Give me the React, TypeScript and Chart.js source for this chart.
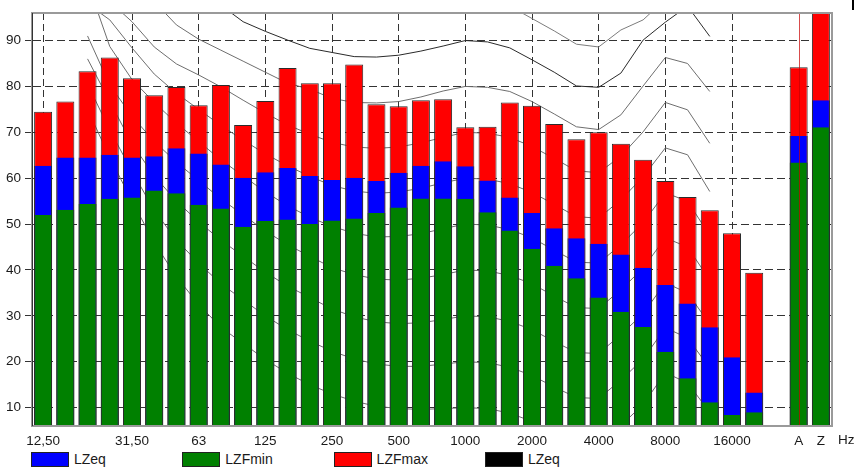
import React, { useEffect, useRef } from 'react';
import { Chart, registerables } from 'chart.js';

Chart.register(...registerables);

// ---- categories (1/3 octave bands + blank + A + Z) ----
const bandLabels = ['12,50','16','20','25','31,50','40','50','63','80','100','125','160','200','250','315','400','500','630','800','1000','1250','1600','2000','2500','3150','4000','5000','6300','8000','10000','12500','16000','20000','','A','Z'];
const tickLabels = ['12,50','','','','31,50','','','63','','','125','','','250','','','500','','','1000','','','2000','','','4000','','','8000','','','16000','','','A','Z'];
const gridIndices = [0, 4, 7, 10, 13, 16, 19, 22, 25, 28, 31];
const markerIndex = 34;
const yTicks = [10, 20, 30, 40, 50, 60, 70, 80, 90];

// ---- bar series (dB) ----
const lzfMax = [74.5,76.7,83.3,86.3,81.8,78.1,79.9,75.9,80.3,71.6,76.8,84.0,80.7,80.7,84.8,76.1,75.7,77.0,77.2,71.1,71.2,76.5,75.8,71.8,68.5,70.0,67.5,64.0,59.4,55.9,53.0,48.0,39.4,null,84.2,98.0];
const lzeq = [62.7,64.5,64.5,65.1,64.5,64.8,66.5,65.4,63.0,60.1,61.3,62.2,60.5,59.6,60.1,59.4,61.2,62.7,63.7,62.6,59.5,55.8,52.4,49.1,46.9,45.7,43.4,40.5,36.7,32.7,27.5,21.0,13.3,null,69.2,77.0];
const lzfMin = [52.0,53.1,54.4,55.5,55.8,57.3,56.7,54.2,53.4,49.4,50.7,51.0,50.0,50.8,51.2,52.4,53.6,55.6,55.6,55.5,52.6,48.6,44.6,40.9,38.2,34.0,30.9,27.6,22.2,16.4,11.2,8.4,9.0,null,63.4,71.1];

// ---- equal loudness contours, 20 Hz .. 12500 Hz (start at band index 2) ----
const contourStart = 2;
const phon100 = [125,122,119,116,113,111,109,107,105.5,104,103,102,101.5,101,100.5,100.5,100.5,100,99.5,97.5,94.8,92.1,89.2,88.6,92.3,94.5,99,101,99];
const phon90 = [113,110,107,104,102,100,97.7,94.1,92.0,90.1,88.3,87.4,86.5,86.4,86.8,87.7,88.8,90.0,89.7,88.4,85.8,83.1,80.1,79.8,82.9,90.1,94.0,97.5,90.9];
const phon80 = [111,107,103,98.5,93.4,90.3,87.9,85.5,83.1,80.7,79.4,77.4,76.5,76.4,76.7,77.7,79.0,80.0,79.8,78.9,76.7,74.0,71.2,70.6,73.8,80.1,86.3,85.0,78.9];
const phon70 = [103,98.5,94.1,88.6,84.9,82.5,79.9,77.0,74.2,71.6,69.6,67.8,66.8,66.5,66.8,67.7,68.9,70.0,69.8,68.9,66.9,64.3,61.6,61.2,64.8,70.1,76.5,74.9,67.6];
const phon60 = [98,94.5,88.4,82.7,78.5,75.0,71.5,68.3,65.3,62.7,60.4,58.4,57.2,56.7,57.0,57.8,59.0,60.0,59.8,58.8,56.9,54.3,51.6,51.3,55.3,60.3,66.6,65.1,57.1];
const phon50 = [102.6,88.7,81.5,76.5,72.0,68.0,64.0,60.5,57.0,54.0,51.5,49.5,48.0,47.2,47.3,47.9,49.0,50.0,49.8,48.8,47.0,44.3,41.7,41.5,45.5,50.3,56.8,55.0,47.5];
const phon40 = [91.0,80.3,73.5,68.0,63.5,59.5,55.5,52.0,48.5,45.5,43.0,40.5,39.0,38.0,37.8,38.2,39.0,40.0,39.8,38.8,37.0,34.3,31.8,31.6,35.7,40.4,47.0,45.0,37.8];
const phon30 = [86.0,76.7,67.5,60.5,55.0,50.5,46.5,43.0,39.5,36.5,34.0,31.5,29.8,28.7,28.3,28.5,29.2,30.0,29.8,28.8,27.0,24.4,22.0,21.8,25.9,30.5,37.2,35.0,28.2];
const phon20 = [80.5,70.5,61.5,53.0,46.5,41.5,37.0,33.5,30.0,27.0,24.5,22.3,20.6,19.5,19.0,19.0,19.5,20.0,19.8,18.8,17.0,14.5,12.2,12.0,16.0,20.6,27.4,25.2,18.6];
const phon10 = [75.0,64.5,55.0,46.0,38.5,32.5,27.5,24.0,20.5,17.5,15.0,13.0,11.4,10.3,9.8,9.6,9.8,10.0,9.8,8.8,7.0,4.6,2.4,2.2,6.1,10.7,17.6,15.4,9.0];

const legendLabels = ['LZeq', 'LZFmin', 'LZFmax', 'LZeq'];
const legendColors = ['#0000ff', '#008000', '#ff0000', '#000000'];

const FONT_FAMILY = '"Liberation Sans", Arial, sans-serif';
const TEXT_COLOR = '#1a1a1a';

function padContour(vals: number[]): (number | null)[] {
  const out: (number | null)[] = bandLabels.map(() => null);
  vals.forEach((v, i) => { out[contourStart + i] = v; });
  return out;
}

const framePlugin = {
  id: 'frameAndMarker',
  afterDatasetsDraw(chart: any) {
    const { ctx, chartArea: a, scales } = chart;
    ctx.save();
    const xA = Math.round(scales.x.getPixelForValue(markerIndex)) + 0.5;
    ctx.strokeStyle = 'rgba(200,0,0,0.7)';
    ctx.lineWidth = 1;
    ctx.beginPath();
    ctx.moveTo(xA, a.top);
    ctx.lineTo(xA, a.bottom);
    ctx.stroke();
    ctx.strokeStyle = '#9a9a9a';
    ctx.lineWidth = 2;
    ctx.strokeRect(a.left, a.top, a.right - a.left, a.bottom - a.top);
    ctx.strokeStyle = '#333';
    ctx.lineWidth = 1;
    ctx.beginPath();
    ctx.moveTo(a.left + 0.5, a.top);
    ctx.lineTo(a.left + 0.5, a.bottom);
    ctx.stroke();
    ctx.restore();
  },
};

export default function App() {
  const canvasRef = useRef<HTMLCanvasElement | null>(null);

  useEffect(() => {
    document.body.style.margin = '0';
    const canvas = canvasRef.current;
    if (!canvas) return;

    const contourList = [
      { data: phon100, color: '#7c7c7c', width: 1 },
      { data: phon90, color: '#2a2a2a', width: 1 },
      { data: phon80, color: '#6e6e6e', width: 1 },
      { data: phon70, color: '#6e6e6e', width: 1 },
      { data: phon60, color: '#6e6e6e', width: 1 },
      { data: phon50, color: '#6e6e6e', width: 1 },
      { data: phon40, color: '#6e6e6e', width: 1 },
      { data: phon30, color: '#6e6e6e', width: 1 },
      { data: phon20, color: '#6e6e6e', width: 1 },
      { data: phon10, color: '#6e6e6e', width: 1 },
    ];

    const lineSets = contourList.map((c, i) => ({
      type: 'line' as const,
      label: 'contour' + i,
      data: padContour(c.data),
      borderColor: c.color,
      borderWidth: c.width,
      pointRadius: 0,
      tension: 0,
      spanGaps: false,
      order: 20 + i,
    }));

    const barCommon = {
      type: 'bar' as const,
      grouped: false,
      categoryPercentage: 1,
      barPercentage: 0.81,
      borderColor: '#2b2b2b',
      borderSkipped: false as const,
    };

    const chart = new Chart(canvas, {
      data: {
        labels: bandLabels,
        datasets: [
          { ...barCommon, label: 'LZFmin', data: lzfMin, backgroundColor: '#008000', borderWidth: { left: 1, right: 1, top: 0, bottom: 0 }, order: 1 },
          { ...barCommon, label: 'LZeq', data: lzeq, backgroundColor: '#0000ff', borderWidth: { left: 1, right: 1, top: 0, bottom: 0 }, order: 2 },
          { ...barCommon, label: 'LZFmax', data: lzfMax, backgroundColor: '#ff0000', borderWidth: { left: 1, right: 1, top: 1, bottom: 0 }, order: 3 },
          ...lineSets,
        ] as any,
      },
      options: {
        animation: false,
        responsive: false,
        maintainAspectRatio: false,
        layout: { padding: { left: 0, top: 13, right: 22, bottom: 0 } },
        plugins: { legend: { display: false }, tooltip: { enabled: false } },
        scales: {
          x: {
            type: 'category',
            offset: true,
            grid: {
              offset: false,
              drawTicks: false,
              lineWidth: 1,
              color: (c: any) => (gridIndices.includes(c.index) ? '#333' : 'rgba(0,0,0,0)'),
            },
            border: { display: false, dash: [7, 4] },
            ticks: {
              autoSkip: false,
              maxRotation: 0,
              minRotation: 0,
              padding: 7,
              color: TEXT_COLOR,
              font: { family: FONT_FAMILY, size: 13.5 },
              callback: (_v: any, i: number) => tickLabels[i],
            },
            afterFit: (s: any) => { s.height = 24; },
          },
          y: {
            min: 6,
            max: 96,
            afterBuildTicks: (s: any) => { s.ticks = yTicks.map((v) => ({ value: v })); },
            grid: { color: '#333', tickColor: '#333', tickLength: 7, drawTicks: true, lineWidth: 1 },
            border: { display: true, color: '#333', dash: [8, 4] },
            ticks: {
              padding: 4,
              color: TEXT_COLOR,
              font: { family: FONT_FAMILY, size: 13.5 },
              callback: (v: any) => String(v),
            },
            afterFit: (s: any) => { s.width = 32; },
          },
        },
      } as any,
      plugins: [framePlugin],
    });

    return () => chart.destroy();
  }, []);

  return (
    <div style={{ position: 'relative', width: 854, height: 467, overflow: 'hidden', background: '#fff', fontFamily: FONT_FAMILY }}>
      <canvas ref={canvasRef} width={854} height={450} style={{ position: 'absolute', left: 0, top: 0, width: 854, height: 450 }} />
      <div style={{ position: 'absolute', left: 838, top: 432, fontSize: 13.5, color: TEXT_COLOR, lineHeight: '16px' }}>Hz</div>
      <div style={{ position: 'absolute', left: 852, top: 0, width: 2, height: 10, background: '#000' }} />
      {legendLabels.map((lab, i) => (
        <div key={i} style={{ position: 'absolute', left: 31 + i * 151.3, top: 451, height: 16, display: 'flex', alignItems: 'flex-start' }}>
          <div style={{ width: 38, height: 15, marginTop: 1, boxSizing: 'border-box', border: '1px solid #222', background: legendColors[i] }} />
          <div style={{ marginLeft: 5, fontSize: 14, lineHeight: '16px', color: TEXT_COLOR }}>{lab}</div>
        </div>
      ))}
    </div>
  );
}
